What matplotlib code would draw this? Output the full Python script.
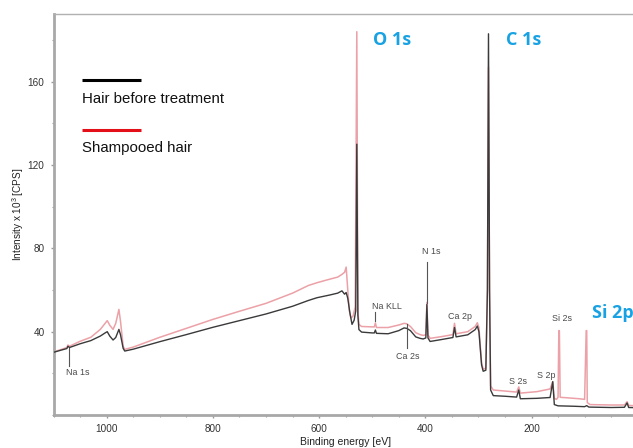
import matplotlib
matplotlib.use("Agg")
import matplotlib.pyplot as plt
from matplotlib.ticker import MultipleLocator, FixedLocator

plt.rcParams['font.family'] = ['Liberation Sans', 'DejaVu Sans']
plt.rcParams['mathtext.fontset'] = 'custom'
plt.rcParams['mathtext.rm'] = 'Liberation Sans'
plt.rcParams['mathtext.it'] = 'Liberation Sans:italic'

# ---- data (binding energy in eV, intensity in 10^3 CPS) ----
energy_before = [1100, 1085, 1075, 1073, 1070, 1050, 1030, 1012, 1003, 999, 994, 988,
                 983, 977, 974, 969, 966, 950, 900, 850, 800, 750, 700, 650, 620, 604,
                 580, 565, 557, 552, 549, 546, 542, 538, 534, 531, 529, 527, 525, 520,
                 500, 496, 494, 492, 470, 450, 440, 435, 428, 418, 410, 404, 399, 397,
                 395, 391, 370, 348, 345, 342, 320, 306, 302, 299, 294, 291, 286, 283,
                 281, 279, 277, 272, 250, 228, 224, 221, 190, 165, 160, 157, 150, 120,
                 100, 96, 92, 50, 25, 20, 17, 0]
intensity_before = [30.1, 31.2, 31.9, 33.0, 32.4, 34.2, 35.7, 37.9, 39.4, 40.0, 37.8, 36.0,
                    37.2, 41.1, 38.5, 32.0, 30.7, 31.6, 35.2, 38.6, 42.1, 45.3, 48.5, 52.2, 55.0, 56.3,
                    57.6, 58.5, 59.6, 58.0, 58.8, 56.0, 49.0, 43.5, 45.5, 50.0, 130.0, 48.0, 41.0, 39.8,
                    39.4, 39.4, 40.8, 39.2, 39.0, 40.5, 41.8, 41.6, 40.5, 37.5, 36.8, 36.5, 37.0, 53.0,
                    37.0, 35.3, 36.2, 37.2, 42.0, 37.5, 38.5, 41.0, 42.7, 40.0, 24.0, 21.0, 21.5, 60.0,
                    183.0, 60.0, 12.0, 9.3, 9.0, 8.6, 12.0, 7.8, 8.0, 8.4, 16.0, 5.0, 4.4, 4.2,
                    4.0, 4.5, 3.8, 3.6, 3.7, 5.8, 3.6, 3.5]

energy_shampooed = [1100, 1085, 1075, 1073, 1070, 1050, 1030, 1012, 1003, 999, 994, 988,
                    983, 977, 974, 969, 966, 950, 900, 850, 800, 750, 700, 650, 620, 604,
                    580, 565, 557, 552, 549, 546, 543, 540, 536, 532, 529, 527, 525, 520,
                    500, 496, 494, 492, 470, 450, 440, 435, 428, 418, 410, 404, 399, 397,
                    395, 391, 370, 348, 345, 342, 320, 306, 302, 299, 294, 291, 286, 283,
                    281, 279, 277, 272, 250, 228, 224, 221, 190, 165, 160, 157, 153, 150,
                    148.5, 147.5, 146, 130, 110, 100, 97, 96, 95, 90, 50, 25, 20, 17, 0]
intensity_shampooed = [30.3, 31.5, 32.4, 33.6, 33.0, 35.4, 37.3, 41.1, 44.0, 45.3, 43.0, 41.1,
                       44.0, 50.7, 45.0, 33.0, 31.5, 32.6, 37.3, 41.6, 45.9, 49.8, 53.6, 58.5, 62.2, 63.5,
                       65.2, 66.2, 67.5, 68.5, 71.0, 60.0, 50.0, 46.5, 47.5, 52.0, 184.0, 50.0, 43.5, 42.5,
                       42.3, 42.3, 44.2, 42.0, 42.0, 43.2, 44.0, 43.8, 42.5, 39.5, 38.6, 38.2, 38.5, 54.0,
                       38.5, 36.8, 37.6, 38.6, 44.0, 39.0, 40.0, 42.5, 44.3, 42.0, 25.0, 22.0, 22.5, 60.0,
                       167.0, 60.0, 14.0, 12.0, 11.5, 11.0, 13.5, 10.5, 11.2, 12.5, 16.0, 8.0, 7.5, 8.5,
                       40.5, 40.5, 8.5, 8.2, 7.8, 7.5, 40.5, 40.5, 6.0, 5.0, 4.8, 4.8, 6.4, 4.6, 4.4]

series_labels = ["Hair before treatment", "Shampooed hair"]
x_ticks = [1000, 800, 600, 400, 200]
y_ticks = [40, 80, 120, 160]

# small peak labels: (text, label energy, label intensity, leader from, leader to, leader energy)
minor_labels = [
    ("Na 1s", 1054, 20.2, 23.5, 32.0, 1071),
    ("Na KLL", 472, 52.3, 49.5, 45.0, 494.7),
    ("Ca 2s", 432.6, 28.0, 32.0, 43.5, 435.4),
    ("N 1s", 389, 78.3, 73.5, 54.0, 396.5),
    ("Ca 2p", 335, 47.2, None, None, None),
    ("S 2s", 225.4, 16.0, None, None, None),
    ("S 2p", 172.7, 19.2, None, None, None),
    ("Si 2s", 142.6, 46.4, None, None, None),
]
# main peak labels: (text, left energy, intensity)
major_labels = [("O 1s", 498.5, 180), ("C 1s", 248.6, 180), ("Si 2p", 86, 49)]

# ---- figure ----
W, H = 633, 448
fig = plt.figure(figsize=(W / 100, H / 100), dpi=100)
ax = fig.add_axes([53.6 / W, 33 / H, 584.1 / W, 401 / H])

ax.plot(energy_shampooed, intensity_shampooed, color='#eba1a7', lw=1.1, zorder=2)
ax.plot(energy_before, intensity_before, color='#3a3a3a', lw=1.0, zorder=3)

ax.set_xlim(1100, 0)
ax.set_ylim(0, 192.5)

ax.xaxis.set_major_locator(FixedLocator(x_ticks))
ax.xaxis.set_minor_locator(MultipleLocator(50))
ax.yaxis.set_major_locator(FixedLocator(y_ticks))
ax.yaxis.set_minor_locator(MultipleLocator(20))
ax.tick_params(which='both', direction='out', color='#9a9a9a', labelcolor='#333333',
               labelsize=7.2, pad=4)
ax.tick_params(which='major', length=2.5, width=1)
ax.tick_params(which='minor', length=1.5, width=0.8)

for side in ('left', 'bottom'):
    ax.spines[side].set_color('#a8a8a8')
    ax.spines[side].set_linewidth(2.0)
ax.spines['top'].set_color('#b0b0b0')
ax.spines['top'].set_linewidth(1.0)
ax.spines['right'].set_visible(False)

ax.set_xlabel('Binding energy [eV]', fontsize=7.5, color='#222222', labelpad=2.2)
ax.set_ylabel('Intensity x 10$^3$ [CPS]', fontsize=7.2, color='#222222', labelpad=1.5)

# legend drawn as line over text
leg_colors = ['#000000', '#e3101a']
leg_line_y = [0.835, 0.711]
leg_text_y = [0.788, 0.665]
for lab, c, ly, ty in zip(series_labels, leg_colors, leg_line_y, leg_text_y):
    ax.plot([0.0486, 0.1496], [ly, ly], color=c, lw=2.2, transform=ax.transAxes,
            solid_capstyle='butt', clip_on=False)
    ax.text(0.0486, ty, lab, transform=ax.transAxes, fontsize=10.8, color='#111111',
            ha='left', va='center')

for txt, ex, iy, l0, l1, le in minor_labels:
    ax.text(ex, iy, txt, fontsize=6.4, color='#4a4a4a', ha='center', va='center')
    if l0 is not None:
        ax.plot([le, le], [l0, l1], color='#555555', lw=0.8, zorder=4)

for txt, ex, iy in major_labels:
    ax.text(ex, iy, txt, fontsize=13, fontweight='bold', color='#18a2e3',
            family=['Open Sans', 'DejaVu Sans'], ha='left', va='center', clip_on=False)

fig.savefig('out.png', dpi=100)
